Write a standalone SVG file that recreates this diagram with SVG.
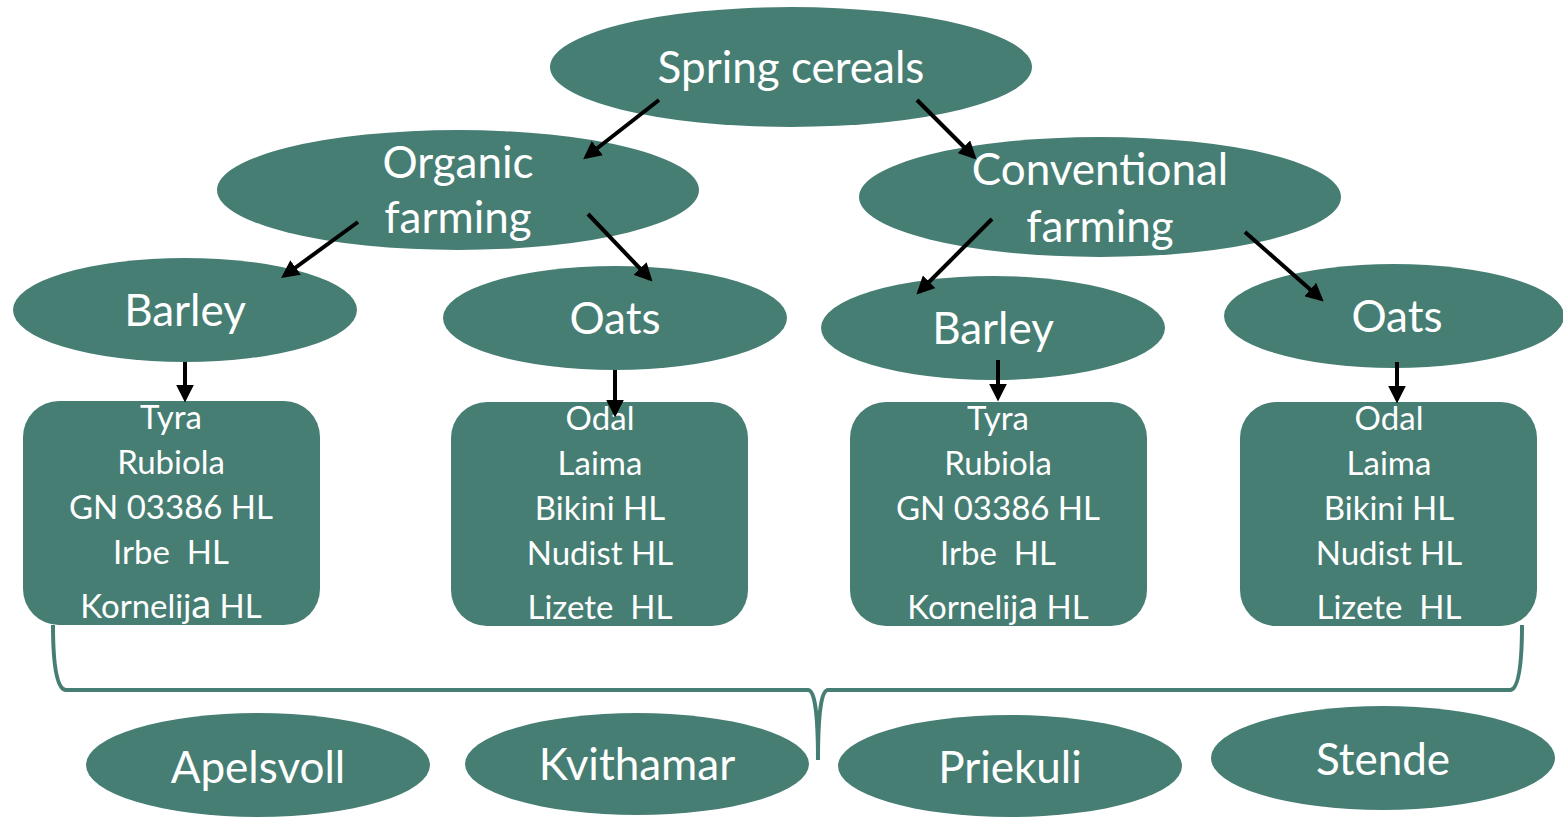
<svg xmlns="http://www.w3.org/2000/svg" width="1563" height="817" viewBox="0 0 1563 817">
<style>
.n{fill:#467E73}
.t{font-family:Lato,"Open Sans","Liberation Sans",sans-serif;fill:#fff;text-anchor:middle;white-space:pre}
.big{font-size:44px}
.mid{font-size:44px}
.sm{font-size:33px}
.c{stroke:#000;stroke-width:4;fill:none;marker-end:url(#ah)}
.br{stroke:#467E73;stroke-width:4;fill:none}
</style>
<defs>
<marker id="ah" viewBox="0 0 10 10" refX="8" refY="5" markerWidth="4.5" markerHeight="4.5" orient="auto" markerUnits="strokeWidth">
<path d="M0,0 L10,5 L0,10 z" fill="#000"/>
</marker>
</defs>
<rect width="1563" height="817" fill="#fff"/>
<g id="spring"><ellipse class="n" cx="791" cy="67" rx="241" ry="60"/><text class="t big" x="791" y="83">Spring cereals</text></g>
<g id="organic"><ellipse class="n" cx="458" cy="190" rx="241" ry="60"/><text class="t big" x="458" y="178">Organic</text><text class="t big" x="458" y="233">farming</text></g>
<g id="conventional"><ellipse class="n" cx="1100" cy="197" rx="241" ry="60"/><text class="t big" x="1100" y="185">Conventional</text><text class="t big" x="1100" y="242">farming</text></g>
<g id="barley1"><ellipse class="n" cx="185" cy="310" rx="172" ry="52"/><text class="t mid" x="185" y="326">Barley</text></g>
<g id="oats1"><ellipse class="n" cx="615" cy="318" rx="172" ry="52"/><text class="t mid" x="615" y="334">Oats</text></g>
<g id="barley2"><ellipse class="n" cx="993" cy="328" rx="172" ry="52"/><text class="t mid" x="993" y="344">Barley</text></g>
<g id="oats2"><ellipse class="n" cx="1394" cy="316" rx="170" ry="52"/><text class="t mid" x="1397" y="332">Oats</text></g>
<g id="box1"><rect class="n" x="23" y="401" width="297" height="224" rx="36"/>
<text class="t sm" x="171" y="429">Tyra</text><text class="t sm" x="171" y="474">Rubiola</text><text class="t sm" x="171" y="519">GN 03386 HL</text><text class="t sm" x="171" y="564" xml:space="preserve">Irbe  HL</text><text class="t sm" x="171" y="618">Kornelij<tspan font-size="40">a</tspan> HL</text></g>
<g id="box2"><rect class="n" x="451" y="402" width="297" height="224" rx="36"/>
<text class="t sm" x="600" y="430">Odal</text><text class="t sm" x="600" y="475">Laima</text><text class="t sm" x="600" y="520">Bikini HL</text><text class="t sm" x="600" y="565">Nudist HL</text><text class="t sm" x="600" y="619" xml:space="preserve">Lizete  HL</text></g>
<g id="box3"><rect class="n" x="850" y="402" width="297" height="224" rx="36"/>
<text class="t sm" x="998" y="430">Tyra</text><text class="t sm" x="998" y="475">Rubiola</text><text class="t sm" x="998" y="520">GN 03386 HL</text><text class="t sm" x="998" y="565" xml:space="preserve">Irbe  HL</text><text class="t sm" x="998" y="619">Kornelij<tspan font-size="40">a</tspan> HL</text></g>
<g id="box4"><rect class="n" x="1240" y="402" width="297" height="224" rx="36"/>
<text class="t sm" x="1389" y="430">Odal</text><text class="t sm" x="1389" y="475">Laima</text><text class="t sm" x="1389" y="520">Bikini HL</text><text class="t sm" x="1389" y="565">Nudist HL</text><text class="t sm" x="1389" y="619" xml:space="preserve">Lizete  HL</text></g>
<g id="apelsvoll"><ellipse class="n" cx="258" cy="765" rx="172" ry="52"/><text class="t big" x="258" y="783">Apelsvoll</text></g>
<g id="kvithamar"><ellipse class="n" cx="637" cy="764" rx="172" ry="51"/><text class="t big" x="637" y="780">Kvithamar</text></g>
<g id="priekuli"><ellipse class="n" cx="1010" cy="766" rx="172" ry="51"/><text class="t big" x="1010" y="783">Priekuli</text></g>
<g id="stende"><ellipse class="n" cx="1383" cy="758" rx="172" ry="52"/><text class="t big" x="1383" y="775">Stende</text></g>
<g id="brace"><path class="br" d="M53,625 Q53,690 66,690 L808,690 Q818,690 818,760 Q818,690 828,690 L1510,690 Q1522,690 1522,625"/></g>
<g id="connectors">
<line class="c" x1="659" y1="100" x2="586" y2="157"/>
<line class="c" x1="917" y1="100" x2="974" y2="157"/>
<line class="c" x1="358" y1="222" x2="284" y2="276"/>
<line class="c" x1="588" y1="214" x2="650" y2="279"/>
<line class="c" x1="992" y1="219" x2="919" y2="292"/>
<line class="c" x1="1245" y1="232" x2="1321" y2="299"/>
<line class="c" x1="185" y1="362" x2="185" y2="399"/>
<line class="c" x1="615" y1="370" x2="615" y2="414"/>
<line class="c" x1="998" y1="360" x2="998" y2="398"/>
<line class="c" x1="1397" y1="362" x2="1397" y2="400"/>
</g>
</svg>
